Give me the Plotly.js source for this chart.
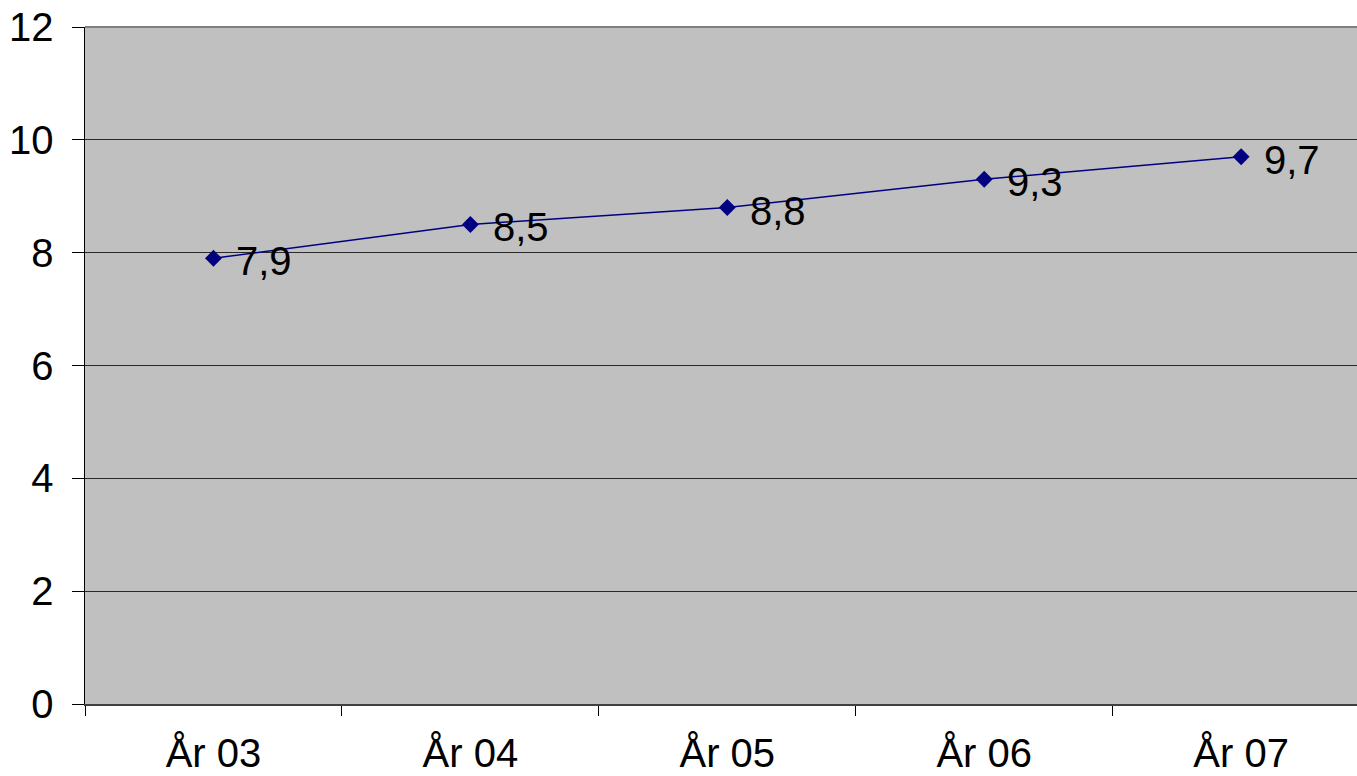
<!DOCTYPE html>
<html>
<head>
<meta charset="utf-8">
<script src="https://cdn.plot.ly/plotly-3.0.1.min.js"></script>
<style>html,body{margin:0;padding:0;background:#fff;}#chart{width:1357px;height:776px;}</style>
</head>
<body>
<div id="chart"></div>
<script>
const categories = ["År 03", "År 04", "År 05", "År 06", "År 07"];
const values = [7.9, 8.5, 8.8, 9.3, 9.7];
const yTicks = [0, 2, 4, 6, 8, 10, 12];

const FONT = 'Liberation Sans, Arial, sans-serif';

const trace = {
  x: categories,
  y: values,
  type: 'scatter',
  mode: 'lines+markers',
  line: {color: '#000080', width: 1.5},
  marker: {symbol: 'diamond', size: 13, color: '#000080'},
  hoverinfo: 'skip',
  cliponaxis: false
};

const labels = categories.map((c, i) => ({
  x: c,
  y: values[i],
  xref: 'x',
  yref: 'y',
  text: values[i].toFixed(1).replace('.', ','),
  showarrow: false,
  xanchor: 'left',
  yanchor: 'middle',
  xshift: 21,
  yshift: -3,
  font: {family: FONT, size: 40, color: '#000'}
}));

const layout = {
  width: 1357,
  height: 776,
  margin: {l: 84.5, r: 0, t: 27, b: 71.5, pad: 0},
  paper_bgcolor: '#ffffff',
  plot_bgcolor: '#c0c0c0',
  showlegend: false,
  font: {family: FONT, size: 40, color: '#000'},
  xaxis: {
    type: 'category',
    range: [-0.5, 4.451],
    tickson: 'boundaries',
    ticks: 'outside',
    ticklen: 10,
    tickwidth: 1,
    tickcolor: '#000',
    showgrid: false,
    showline: true,
    linecolor: '#404040',
    linewidth: 2,
    zeroline: false,
    tickfont: {size: 40},
    ticklabelstandoff: 13
  },
  yaxis: {
    range: [0, 12],
    tickvals: yTicks,
    ticktext: yTicks.map(String),
    ticks: 'outside',
    ticklen: 12,
    tickwidth: 1,
    tickcolor: '#000',
    showgrid: true,
    gridcolor: '#2a2a2a',
    gridwidth: 1,
    showline: true,
    linecolor: '#000',
    linewidth: 1.5,
    zeroline: false,
    tickfont: {size: 40},
    ticklabelstandoff: 10
  },
  annotations: labels,
  shapes: [{
    type: 'line', xref: 'paper', yref: 'paper', x0: 0, x1: 1, y0: 1, y1: 1,
    line: {color: '#808080', width: 2}, layer: 'above'
  }]
};

Plotly.newPlot('chart', [trace], layout, {displayModeBar: false, staticPlot: true});
</script>
</body>
</html>
